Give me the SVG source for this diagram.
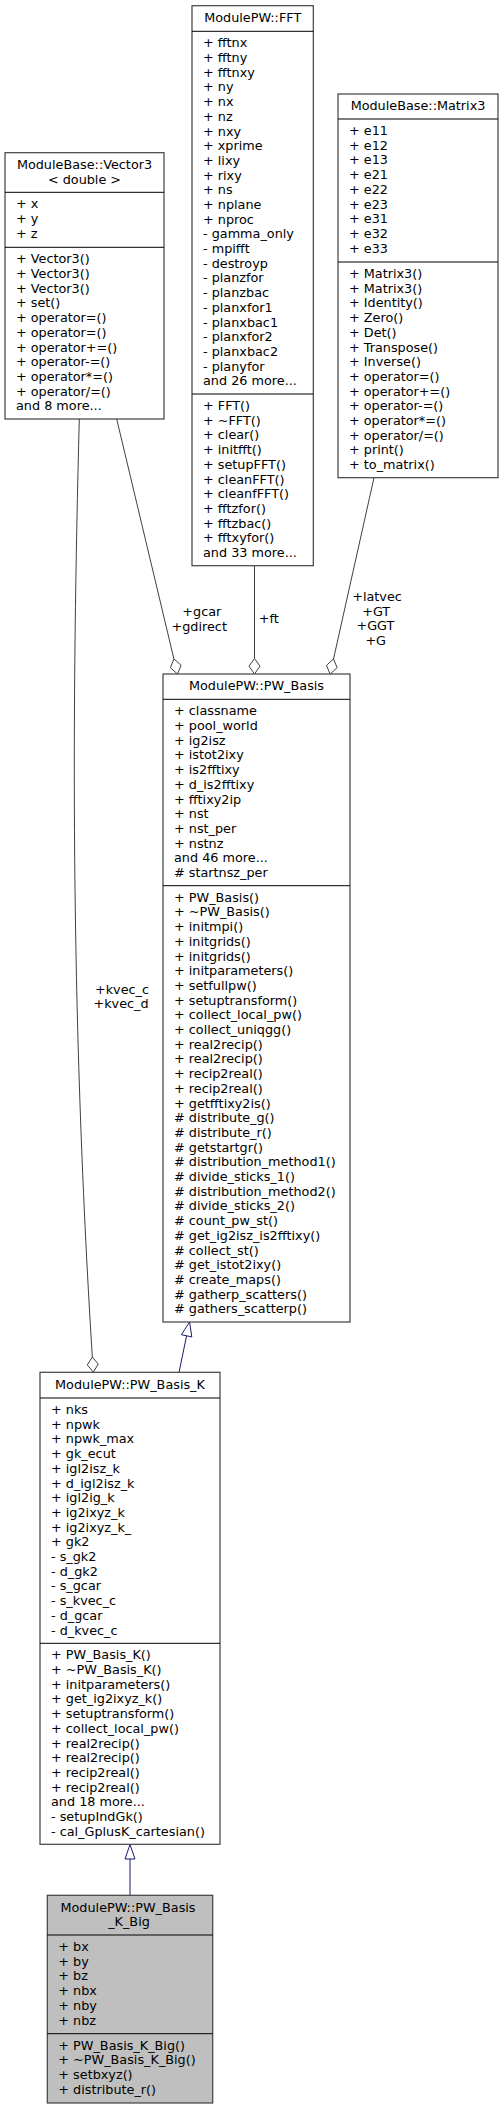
<svg xmlns="http://www.w3.org/2000/svg" width="503" height="2109" viewBox="0 0 503 2109">
<style>
.t{font-family:"DejaVu Sans","Liberation Sans",sans-serif;font-size:12.8px;fill:#000}
.c{text-anchor:middle}
.box{fill:#fff;stroke:#404040;stroke-width:1.2}
.big{fill:#bfbfbf;stroke:#404040;stroke-width:1.2}
.sep{stroke:#000;stroke-width:1}
.agg{fill:none;stroke:#404040;stroke-width:1}
.dia{fill:#fff;stroke:#404040;stroke-width:1}
.inh{fill:none;stroke:#191970;stroke-width:1}
.tri{fill:#fff;stroke:#191970;stroke-width:1}
</style>
<rect x="0" y="0" width="503" height="2109" fill="#fff"/>
<g id="connectors">
  <path class="agg" d="M79.3,419 C72,700 70,1000 92.3,1357"/>
  <polygon class="dia" points="93.3,1372 98.3,1364.1 92.3,1357 87.3,1364.9"/>
  <text class="t c" x="122" y="993.5">+kvec_c</text>
  <text class="t c" x="121" y="1008.2">+kvec_d</text>

  <path class="agg" d="M116.7,419 L173.9,658.9"/>
  <polygon class="dia" points="177.5,674 181.1,665.2 173.9,658.9 170.4,667.7"/>
  <text class="t c" x="201.8" y="616">+gcar</text>
  <text class="t c" x="199.2" y="630.7">+gdirect</text>

  <path class="agg" d="M254.5,565.7 L254.5,658.5"/>
  <polygon class="dia" points="254.5,674 260,666.2 254.5,658.5 249,666.2"/>
  <text class="t" x="258.7" y="623">+ft</text>

  <path class="agg" d="M374,477.7 L333.5,659"/>
  <polygon class="dia" points="330.1,674.1 337.2,667.7 333.5,659 326.5,665.3"/>
  <text class="t c" x="377" y="601">+latvec</text>
  <text class="t c" x="376.2" y="615.7">+GT</text>
  <text class="t c" x="375.4" y="630.4">+GGT</text>
  <text class="t c" x="375.7" y="645.1">+G</text>

  <path class="inh" d="M179,1372.3 L186.6,1335.8"/>
  <polygon class="tri" points="189.6,1322 191.8,1336.9 181.4,1334.7"/>

  <path class="inh" d="M130,1895.3 L130,1859"/>
  <polygon class="tri" points="130,1844.5 135,1859 125,1859"/>
</g>

<g id="node-fft">
  <rect class="box" x="192" y="5.7" width="121.3" height="560"/>
  <line class="sep" x1="192" y1="31.3" x2="313.3" y2="31.3"/>
  <line class="sep" x1="192" y1="394" x2="313.3" y2="394"/>
  <text class="t c" x="252.7" y="22">ModulePW::FFT</text>
  <text class="t" y="47.3"><tspan x="203">+ fftnx</tspan><tspan x="203" dy="14.7">+ fftny</tspan><tspan x="203" dy="14.7">+ fftnxy</tspan><tspan x="203" dy="14.7">+ ny</tspan><tspan x="203" dy="14.7">+ nx</tspan><tspan x="203" dy="14.7">+ nz</tspan><tspan x="203" dy="14.7">+ nxy</tspan><tspan x="203" dy="14.7">+ xprime</tspan><tspan x="203" dy="14.7">+ lixy</tspan><tspan x="203" dy="14.7">+ rixy</tspan><tspan x="203" dy="14.7">+ ns</tspan><tspan x="203" dy="14.7">+ nplane</tspan><tspan x="203" dy="14.7">+ nproc</tspan><tspan x="203" dy="14.7">- gamma_only</tspan><tspan x="203" dy="14.7">- mpifft</tspan><tspan x="203" dy="14.7">- destroyp</tspan><tspan x="203" dy="14.7">- planzfor</tspan><tspan x="203" dy="14.7">- planzbac</tspan><tspan x="203" dy="14.7">- planxfor1</tspan><tspan x="203" dy="14.7">- planxbac1</tspan><tspan x="203" dy="14.7">- planxfor2</tspan><tspan x="203" dy="14.7">- planxbac2</tspan><tspan x="203" dy="14.7">- planyfor</tspan><tspan x="203" dy="14.7">and 26 more...</tspan></text>
  <text class="t" y="410"><tspan x="203">+ FFT()</tspan><tspan x="203" dy="14.7">+ ~FFT()</tspan><tspan x="203" dy="14.7">+ clear()</tspan><tspan x="203" dy="14.7">+ initfft()</tspan><tspan x="203" dy="14.7">+ setupFFT()</tspan><tspan x="203" dy="14.7">+ cleanFFT()</tspan><tspan x="203" dy="14.7">+ cleanfFFT()</tspan><tspan x="203" dy="14.7">+ fftzfor()</tspan><tspan x="203" dy="14.7">+ fftzbac()</tspan><tspan x="203" dy="14.7">+ fftxyfor()</tspan><tspan x="203" dy="14.7">and 33 more...</tspan></text>
</g>

<g id="node-vector3">
  <rect class="box" x="5" y="152.7" width="159" height="266.3"/>
  <line class="sep" x1="5" y1="192.3" x2="164" y2="192.3"/>
  <line class="sep" x1="5" y1="247.3" x2="164" y2="247.3"/>
  <text class="t c" x="84.5" y="169">ModuleBase::Vector3</text>
  <text class="t c" x="84.5" y="183.7">&lt; double &gt;</text>
  <text class="t" y="208.3"><tspan x="16">+ x</tspan><tspan x="16" dy="14.7">+ y</tspan><tspan x="16" dy="14.7">+ z</tspan></text>
  <text class="t" y="263.3"><tspan x="16">+ Vector3()</tspan><tspan x="16" dy="14.7">+ Vector3()</tspan><tspan x="16" dy="14.7">+ Vector3()</tspan><tspan x="16" dy="14.7">+ set()</tspan><tspan x="16" dy="14.7">+ operator=()</tspan><tspan x="16" dy="14.7">+ operator=()</tspan><tspan x="16" dy="14.7">+ operator+=()</tspan><tspan x="16" dy="14.7">+ operator-=()</tspan><tspan x="16" dy="14.7">+ operator*=()</tspan><tspan x="16" dy="14.7">+ operator/=()</tspan><tspan x="16" dy="14.7">and 8 more...</tspan></text>
</g>

<g id="node-matrix3">
  <rect class="box" x="338" y="94" width="160" height="383.7"/>
  <line class="sep" x1="338" y1="119" x2="498" y2="119"/>
  <line class="sep" x1="338" y1="262" x2="498" y2="262"/>
  <text class="t c" x="418" y="110.3">ModuleBase::Matrix3</text>
  <text class="t" y="135"><tspan x="349">+ e11</tspan><tspan x="349" dy="14.7">+ e12</tspan><tspan x="349" dy="14.7">+ e13</tspan><tspan x="349" dy="14.7">+ e21</tspan><tspan x="349" dy="14.7">+ e22</tspan><tspan x="349" dy="14.7">+ e23</tspan><tspan x="349" dy="14.7">+ e31</tspan><tspan x="349" dy="14.7">+ e32</tspan><tspan x="349" dy="14.7">+ e33</tspan></text>
  <text class="t" y="278"><tspan x="349">+ Matrix3()</tspan><tspan x="349" dy="14.7">+ Matrix3()</tspan><tspan x="349" dy="14.7">+ Identity()</tspan><tspan x="349" dy="14.7">+ Zero()</tspan><tspan x="349" dy="14.7">+ Det()</tspan><tspan x="349" dy="14.7">+ Transpose()</tspan><tspan x="349" dy="14.7">+ Inverse()</tspan><tspan x="349" dy="14.7">+ operator=()</tspan><tspan x="349" dy="14.7">+ operator+=()</tspan><tspan x="349" dy="14.7">+ operator-=()</tspan><tspan x="349" dy="14.7">+ operator*=()</tspan><tspan x="349" dy="14.7">+ operator/=()</tspan><tspan x="349" dy="14.7">+ print()</tspan><tspan x="349" dy="14.7">+ to_matrix()</tspan></text>
</g>

<g id="node-pw-basis">
  <rect class="box" x="163" y="674" width="187" height="648"/>
  <line class="sep" x1="163" y1="699.3" x2="350" y2="699.3"/>
  <line class="sep" x1="163" y1="885.7" x2="350" y2="885.7"/>
  <text class="t c" x="256.5" y="690.3">ModulePW::PW_Basis</text>
  <text class="t" y="715.3"><tspan x="174">+ classname</tspan><tspan x="174" dy="14.7">+ pool_world</tspan><tspan x="174" dy="14.7">+ ig2isz</tspan><tspan x="174" dy="14.7">+ istot2ixy</tspan><tspan x="174" dy="14.7">+ is2fftixy</tspan><tspan x="174" dy="14.7">+ d_is2fftixy</tspan><tspan x="174" dy="14.7">+ fftixy2ip</tspan><tspan x="174" dy="14.7">+ nst</tspan><tspan x="174" dy="14.7">+ nst_per</tspan><tspan x="174" dy="14.7">+ nstnz</tspan><tspan x="174" dy="14.7">and 46 more...</tspan><tspan x="174" dy="14.7"># startnsz_per</tspan></text>
  <text class="t" y="901.7"><tspan x="174">+ PW_Basis()</tspan><tspan x="174" dy="14.7">+ ~PW_Basis()</tspan><tspan x="174" dy="14.7">+ initmpi()</tspan><tspan x="174" dy="14.7">+ initgrids()</tspan><tspan x="174" dy="14.7">+ initgrids()</tspan><tspan x="174" dy="14.7">+ initparameters()</tspan><tspan x="174" dy="14.7">+ setfullpw()</tspan><tspan x="174" dy="14.7">+ setuptransform()</tspan><tspan x="174" dy="14.7">+ collect_local_pw()</tspan><tspan x="174" dy="14.7">+ collect_uniqgg()</tspan><tspan x="174" dy="14.7">+ real2recip()</tspan><tspan x="174" dy="14.7">+ real2recip()</tspan><tspan x="174" dy="14.7">+ recip2real()</tspan><tspan x="174" dy="14.7">+ recip2real()</tspan><tspan x="174" dy="14.7">+ getfftixy2is()</tspan><tspan x="174" dy="14.7"># distribute_g()</tspan><tspan x="174" dy="14.7"># distribute_r()</tspan><tspan x="174" dy="14.7"># getstartgr()</tspan><tspan x="174" dy="14.7"># distribution_method1()</tspan><tspan x="174" dy="14.7"># divide_sticks_1()</tspan><tspan x="174" dy="14.7"># distribution_method2()</tspan><tspan x="174" dy="14.7"># divide_sticks_2()</tspan><tspan x="174" dy="14.7"># count_pw_st()</tspan><tspan x="174" dy="14.7"># get_ig2isz_is2fftixy()</tspan><tspan x="174" dy="14.7"># collect_st()</tspan><tspan x="174" dy="14.7"># get_istot2ixy()</tspan><tspan x="174" dy="14.7"># create_maps()</tspan><tspan x="174" dy="14.7"># gatherp_scatters()</tspan><tspan x="174" dy="14.7"># gathers_scatterp()</tspan></text>
</g>

<g id="node-pw-basis-k">
  <rect class="box" x="40" y="1372.3" width="180" height="472"/>
  <line class="sep" x1="40" y1="1398" x2="220" y2="1398"/>
  <line class="sep" x1="40" y1="1643.3" x2="220" y2="1643.3"/>
  <text class="t c" x="130" y="1388.6">ModulePW::PW_Basis_K</text>
  <text class="t" y="1414"><tspan x="51">+ nks</tspan><tspan x="51" dy="14.7">+ npwk</tspan><tspan x="51" dy="14.7">+ npwk_max</tspan><tspan x="51" dy="14.7">+ gk_ecut</tspan><tspan x="51" dy="14.7">+ igl2isz_k</tspan><tspan x="51" dy="14.7">+ d_igl2isz_k</tspan><tspan x="51" dy="14.7">+ igl2ig_k</tspan><tspan x="51" dy="14.7">+ ig2ixyz_k</tspan><tspan x="51" dy="14.7">+ ig2ixyz_k_</tspan><tspan x="51" dy="14.7">+ gk2</tspan><tspan x="51" dy="14.7">- s_gk2</tspan><tspan x="51" dy="14.7">- d_gk2</tspan><tspan x="51" dy="14.7">- s_gcar</tspan><tspan x="51" dy="14.7">- s_kvec_c</tspan><tspan x="51" dy="14.7">- d_gcar</tspan><tspan x="51" dy="14.7">- d_kvec_c</tspan></text>
  <text class="t" y="1659.3"><tspan x="51">+ PW_Basis_K()</tspan><tspan x="51" dy="14.7">+ ~PW_Basis_K()</tspan><tspan x="51" dy="14.7">+ initparameters()</tspan><tspan x="51" dy="14.7">+ get_ig2ixyz_k()</tspan><tspan x="51" dy="14.7">+ setuptransform()</tspan><tspan x="51" dy="14.7">+ collect_local_pw()</tspan><tspan x="51" dy="14.7">+ real2recip()</tspan><tspan x="51" dy="14.7">+ real2recip()</tspan><tspan x="51" dy="14.7">+ recip2real()</tspan><tspan x="51" dy="14.7">+ recip2real()</tspan><tspan x="51" dy="14.7">and 18 more...</tspan><tspan x="51" dy="14.7">- setupIndGk()</tspan><tspan x="51" dy="14.7">- cal_GplusK_cartesian()</tspan></text>
</g>

<g id="node-pw-basis-k-big">
  <rect class="big" x="47.3" y="1895.3" width="165.4" height="207.7"/>
  <line class="sep" x1="47.3" y1="1935" x2="212.7" y2="1935"/>
  <line class="sep" x1="47.3" y1="2033.7" x2="212.7" y2="2033.7"/>
  <text class="t c" x="128" y="1911.5">ModulePW::PW_Basis</text>
  <text class="t c" x="129" y="1926.2">_K_Big</text>
  <text class="t" y="1951"><tspan x="58.3">+ bx</tspan><tspan x="58.3" dy="14.7">+ by</tspan><tspan x="58.3" dy="14.7">+ bz</tspan><tspan x="58.3" dy="14.7">+ nbx</tspan><tspan x="58.3" dy="14.7">+ nby</tspan><tspan x="58.3" dy="14.7">+ nbz</tspan></text>
  <text class="t" y="2049.7"><tspan x="58.3">+ PW_Basis_K_Big()</tspan><tspan x="58.3" dy="14.7">+ ~PW_Basis_K_Big()</tspan><tspan x="58.3" dy="14.7">+ setbxyz()</tspan><tspan x="58.3" dy="14.7">+ distribute_r()</tspan></text>
</g>
</svg>
